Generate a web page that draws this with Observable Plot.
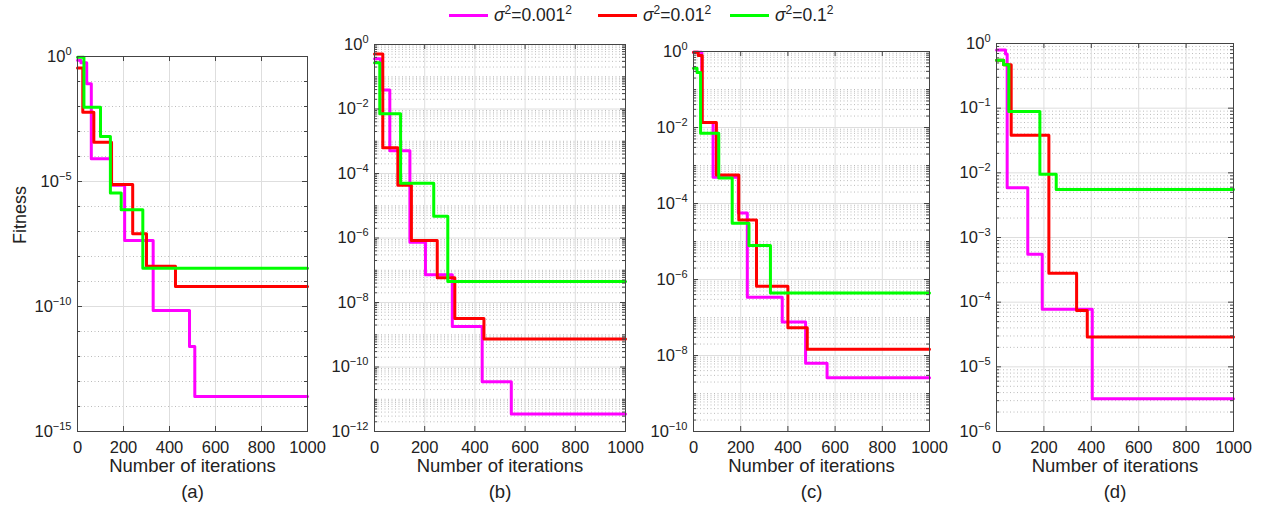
<!DOCTYPE html>
<html><head><meta charset="utf-8">
<script src="https://cdn.jsdelivr.net/npm/d3@7"></script>
<script src="https://cdn.jsdelivr.net/npm/@observablehq/plot@0.6"></script>
<style>
body{margin:0;background:#fff;font-family:"Liberation Sans",Arial,sans-serif;}
#root{position:relative;width:1263px;height:509px;overflow:hidden;background:#fff;}
.panel{position:absolute;}
.leg{position:absolute;top:5px;height:20px;font-size:17.5px;color:#222;display:flex;align-items:center;white-space:nowrap;}
.leg .sw{display:inline-block;width:39px;height:3px;margin-right:6px;}
.leg sup{font-size:12px;line-height:0;}
</style></head><body><div id="root"></div>
<script>
// ---------- data ----------
const seriesLabels = [["0.001","2"],["0.01","2"],["0.1","2"]];
const seriesColors = ["#ff00ff","#ff0000","#00ff00"];
const panelLabels = ["(a)","(b)","(c)","(d)"];
const xLabel = "Number of iterations";
const yLabel = "Fitness";
const iterTicks = [0,200,400,600,800,1000];

// panel (a)
const a_iter_m = [0,15,40,60,148,205,329,487,510,1000];
const a_fit_m  = [0.708,0.562,0.0813,8.1e-5,7.1e-6,4.4e-8,6.9e-11,2.5e-12,2.5e-14,2.5e-14];
const a_iter_r = [0,23,71,148,240,300,426,1000];
const a_fit_r  = [0.35,5.9e-3,3.7e-4,7.6e-6,8.1e-8,4.1e-9,6.3e-10,6.3e-10];
const a_iter_g = [0,28,100,143,190,284,1000];
const a_fit_g  = [0.93,9.3e-3,6.3e-4,3.5e-6,7.4e-7,3.4e-9,3.4e-9];
const a_tickExp = [0,-5,-10,-15];

// panel (b)
const b_iter_m = [0,24,61,141,203,310,429,545,1000];
const b_fit_m  = [0.36,0.039,5.1e-4,7.4e-7,7.2e-8,1.8e-9,3.5e-11,3.5e-12,3.5e-12];
const b_iter_r = [0,33,93,147,250,320,436,1000];
const b_fit_r  = [0.51,6.3e-4,4.3e-5,8.3e-7,5.9e-8,3.2e-9,7.4e-10,7.4e-10];
const b_iter_g = [0,21,104,236,292,1000];
const b_fit_g  = [0.27,7.1e-3,5.0e-5,4.7e-6,4.5e-8,4.5e-8];
const b_tickExp = [0,-2,-4,-6,-8,-10,-12];

// panel (c)
const c_iter_m = [0,35,83,190,228,376,475,566,1000];
const c_fit_m  = [0.95,0.0135,4.9e-4,5.6e-5,3.4e-7,7.6e-8,6.3e-9,2.6e-9,2.6e-9];
const c_iter_r = [0,20,37,97,192,267,400,482,1000];
const c_fit_r  = [0.95,0.79,0.0135,5.6e-4,3.7e-5,6.6e-7,5.4e-8,1.45e-8,1.45e-8];
const c_iter_g = [0,15,30,107,164,235,326,1000];
const c_fit_g  = [0.36,0.28,7.1e-3,4.7e-4,3.0e-5,7.9e-6,4.4e-7,4.4e-7];
const c_tickExp = [0,-2,-4,-6,-8,-10];

// panel (d)
const d_iter_m = [0,38,45,132,193,404,1000];
const d_fit_m  = [0.79,0.69,5.9e-3,5.5e-4,7.8e-5,3.2e-6,3.2e-6];
const d_iter_r = [0,30,62,221,338,383,1000];
const d_fit_r  = [0.55,0.47,0.038,2.8e-4,7.4e-5,2.9e-5,2.9e-5];
const d_iter_g = [0,30,52,183,252,1000];
const d_fit_g  = [0.55,0.47,0.089,9.5e-3,5.5e-3,5.5e-3];
const d_tickExp = [0,-1,-2,-3,-4,-5,-6];

// ---------- layout ----------
const panels = [
  {frame:{l:77,t:56,r:307,b:431}, iters:[a_iter_m,a_iter_r,a_iter_g], fits:[a_fit_m,a_fit_r,a_fit_g], exps:a_tickExp, dense:false, ylab:true},
  {frame:{l:374,t:44,r:625,b:431}, iters:[b_iter_m,b_iter_r,b_iter_g], fits:[b_fit_m,b_fit_r,b_fit_g], exps:b_tickExp, dense:true},
  {frame:{l:693,t:51,r:929,b:431}, iters:[c_iter_m,c_iter_r,c_iter_g], fits:[c_fit_m,c_fit_r,c_fit_g], exps:c_tickExp, dense:true},
  {frame:{l:996,t:43,r:1233,b:431}, iters:[d_iter_m,d_iter_r,d_iter_g], fits:[d_fit_m,d_fit_r,d_fit_g], exps:d_tickExp, dense:true}
];

const root = document.getElementById("root");
const font = '"Liberation Sans", Arial, sans-serif';
const mL = 72, mR = 22, mT = 14, mB = 78;

panels.forEach((p, idx) => {
  const W = p.frame.r - p.frame.l, H = p.frame.b - p.frame.t;
  const data = [];
  p.iters.forEach((arr, k) => arr.forEach((it, j) => data.push({iter: it, fit: p.fits[k][j], k})));
  const minExp = Math.min(...p.exps);
  const majors = p.exps.map(e => Math.pow(10, e));
  const minors = [];
  for (let e = minExp; e < 0; e++) {
    for (let m = 1; m <= 9; m++) {
      if (m === 1 && p.exps.includes(e)) continue;
      if (!p.dense && m > 1) continue;
      minors.push(m * Math.pow(10, e));
    }
  }
  const marks = [
    Plot.gridY(minors, {stroke:"#a0a0a0", strokeOpacity:0.7, strokeDasharray:"1,2.5"}),
    Plot.gridY(majors, {stroke:"#dedede", strokeOpacity:1}),
    Plot.gridX(iterTicks, {stroke:"#dedede", strokeOpacity:1}),
    Plot.line(data, {x:"iter", y:"fit", z:"k", stroke:"k", strokeWidth:3, curve:"step-after"}),
    Plot.tickY(majors, {y:d=>d, insetRight:W-5, stroke:"#444"}),
    Plot.tickY(majors, {y:d=>d, insetLeft:W-5, stroke:"#444"}),
    Plot.tickY(minors, {y:d=>d, insetRight:W-3, stroke:"#444"}),
    Plot.tickY(minors, {y:d=>d, insetLeft:W-3, stroke:"#444"}),
    Plot.tickX(iterTicks, {x:d=>d, insetBottom:H-5, stroke:"#444"}),
    Plot.tickX(iterTicks, {x:d=>d, insetTop:H-5, stroke:"#444"}),
    Plot.frame({stroke:"#444", strokeWidth:1}),
    Plot.axisX(iterTicks, {tickSize:0, tickPadding:10, label:null, fontSize:16.5, tickFormat:d=>String(d)}),
    Plot.axisY(majors, {tickSize:0, tickPadding:6, label:null, fontSize:16.5,
      tickFormat: d => "10^" + Math.round(Math.log10(d))}),
    Plot.text([xLabel], {frameAnchor:"bottom", dy:40, text:d=>d, fontSize:18.5, fill:"#222"}),
    Plot.text([panelLabels[idx]], {frameAnchor:"bottom", dy:66, text:d=>d, fontSize:18.5, fill:"#222"})
  ];
  if (p.ylab) marks.push(Plot.text([yLabel], {frameAnchor:"left", dx:-57, rotate:-90, text:d=>d, fontSize:18, fill:"#222"}));
  const svg = Plot.plot({
    width: W + mL + mR, height: H + mT + mB,
    marginLeft: mL, marginRight: mR, marginTop: mT, marginBottom: mB,
    style: {fontFamily: font, fontSize: "16px", color: "#222", background: "transparent", overflow: "visible"},
    x: {domain: [0, 1000]},
    y: {type: "log", domain: [Math.pow(10, minExp), 1]},
    color: {domain: [0, 1, 2], range: seriesColors},
    marks
  });
  d3.select(svg).selectAll('g[aria-label="y-axis tick label"] text').each(function() {
    const m = this.textContent.match(/^10\^(-?\d+)$/);
    if (!m) return;
    this.textContent = "10";
    const ex = m[1].replace("-", "\u2212");
    d3.select(this).append("tspan").attr("dy", "-7").attr("font-size", "11px").text(ex);
  });
  svg.classList.add("panel");
  svg.style.left = (p.frame.l - mL) + "px";
  svg.style.top = (p.frame.t - mT) + "px";
  svg.style.position = "absolute";
  root.appendChild(svg);
});

// legend
const legLeft = [449, 598, 730];
seriesLabels.forEach((s, i) => {
  const div = document.createElement("div");
  div.className = "leg";
  div.style.left = legLeft[i] + "px";
  div.innerHTML = `<span class="sw" style="background:${seriesColors[i]}"></span><span><i>σ</i><sup>2</sup>=${s[0]}<sup>${s[1]}</sup></span>`;
  root.appendChild(div);
});
</script></body></html>
